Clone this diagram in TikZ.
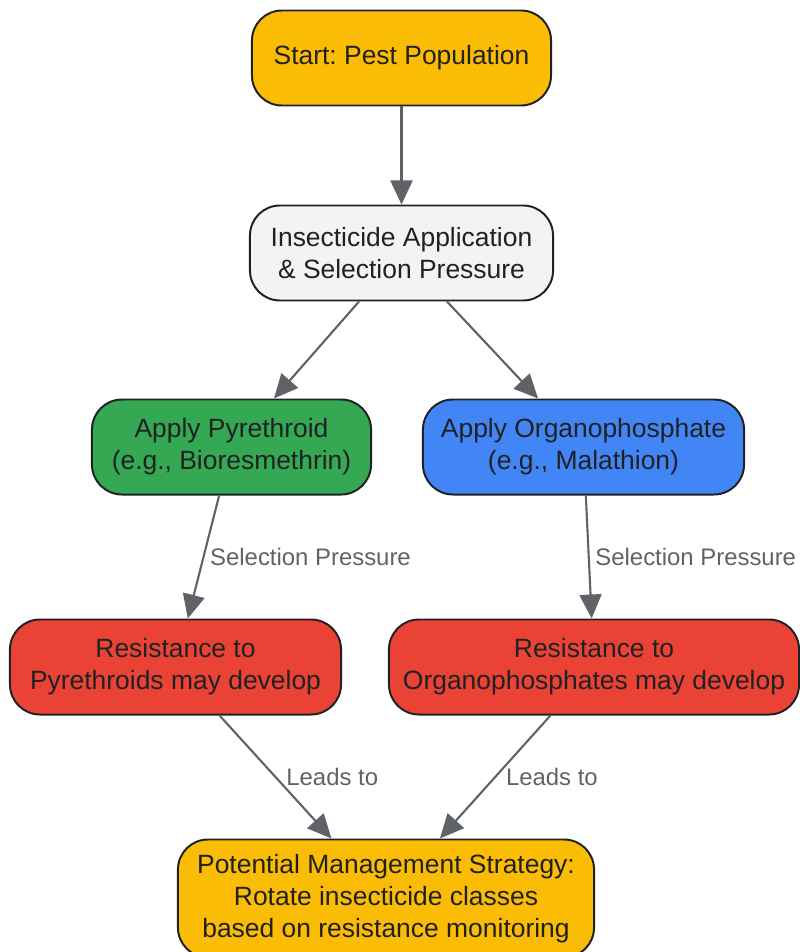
\documentclass[tikz,border=0pt]{standalone}
\usepackage{fontspec}
\setmainfont{Liberation Sans}
\usepackage{tikz}
\usetikzlibrary{arrows.meta}
\frenchspacing

\definecolor{startyellow}{HTML}{FBBC05}
\definecolor{stepgray}{HTML}{F1F3F4}
\definecolor{pyrgreen}{HTML}{34A853}
\definecolor{orgblue}{HTML}{4285F4}
\definecolor{resred}{HTML}{EA4335}
\definecolor{linkgray}{HTML}{5F6368}
\definecolor{inkdark}{HTML}{202124}

\tikzset{
  box/.style={draw=inkdark, line width=1.4pt, rounded corners=0.75cm,
    align=center, text=inkdark, inner sep=0pt, minimum height=2.375cm,
    font=\fontsize{18.8}{22.6}\selectfont},
  link/.style={draw=linkgray, line width=1.5pt,
    -{Triangle[length=0.6cm,width=0.55cm]}},
  linklabel/.style={anchor=west, text=linkgray, inner sep=4pt,
    font=\fontsize{17}{20}\selectfont}
}

\begin{document}
\begin{tikzpicture}[x=0.025cm, y=-0.025cm]
\useasboundingbox (0,0) rectangle (800,952);
\node[box, fill=startyellow, minimum width=7.475cm] (start) at (401.5,58) {Start: Pest Population};
\node[box, fill=stepgray, minimum width=7.575cm] (insect) at (401.5,253) {Insecticide Application\\\& Selection Pressure};
\node[box, fill=pyrgreen, minimum width=6.975cm] (pyr) at (231.5,447) {Apply Pyrethroid\\(e.g., Bioresmethrin)};
\node[box, fill=orgblue, minimum width=8.025cm] (org) at (583.5,447) {Apply Organophosphate\\(e.g., Malathion)};
\node[box, fill=resred, minimum width=8.275cm] (respyr) at (175.5,667) {Resistance to\\Pyrethroids may develop};
\node[box, fill=resred, minimum width=10.25cm] (resorg) at (594,667) {Resistance to\\Organophosphates may develop};
\node[box, fill=startyellow, minimum width=10.4cm, minimum height=2.95cm] (final) at (386,898.5) {Potential Management Strategy:\\Rotate insecticide classes\\based on resistance monitoring};
\foreach \from/\to in {start/insect,insect/pyr,insect/org}
\draw[link] (\from) -- (\to);
\foreach \from/\to/\lab in
{pyr/respyr/Selection Pressure,org/resorg/Selection Pressure}
\draw[link] (\from) -- node[linklabel] {\lab} (\to);
\foreach \from/\to/\lab in
{respyr/final/Leads to,resorg/final/Leads to}
\draw[link] (\from) -- node[linklabel, xshift=3pt] {\lab} (\to);
\end{tikzpicture}
\end{document}
